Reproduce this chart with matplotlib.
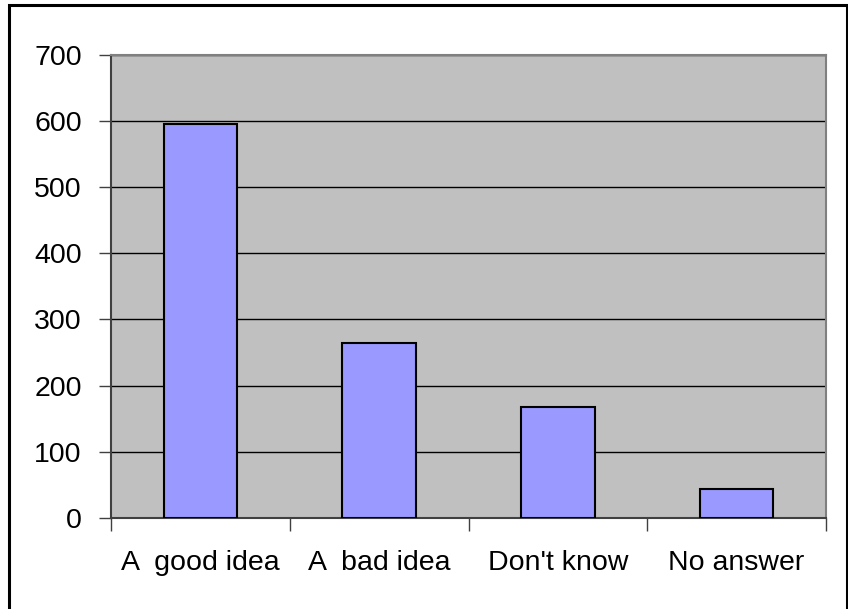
import matplotlib
matplotlib.use("Agg")
import matplotlib.pyplot as plt
from matplotlib.patches import Rectangle

categories = ["A  good idea", "A  bad idea", "Don't know", "No answer"]
values = [596, 264, 168, 43]
yticks = [0, 100, 200, 300, 400, 500, 600, 700]

plt.rcParams['font.family'] = ['Liberation Sans', 'DejaVu Sans']

fig = plt.figure(figsize=(8.48, 6.09), dpi=100)
fig.patch.set_facecolor('white')
ax = fig.add_axes([111/848, 1-517.7/609, (826-111)/848, (517.7-55)/609])
ax.set_facecolor('#C0C0C0')

x = list(range(len(categories)))
ax.bar(x, values, width=0.41, color='#9999FF', edgecolor='black', linewidth=1.5, zorder=3)

ax.set_xlim(-0.5, len(categories) - 0.5)
ax.set_ylim(0, 700)
ax.set_yticks(yticks)
ax.set_yticklabels([str(v) for v in yticks], fontsize=20.5)
ax.yaxis.grid(True, color='black', linewidth=1.0, zorder=1)
ax.set_axisbelow(True)

ax.set_xticks(x)
ax.set_xticklabels(categories, fontsize=20.5)
ax.set_xticks([i - 0.5 for i in range(len(categories) + 1)], minor=True)
ax.tick_params(axis='x', which='major', length=0, pad=23)
ax.tick_params(axis='x', which='minor', length=9, width=1.0, color='#404040', direction='out')
ax.tick_params(axis='y', which='major', length=9, width=1.0, color='#404040', direction='out', pad=12)

for s in ['top', 'right']:
    ax.spines[s].set_color('#808080')
    ax.spines[s].set_linewidth(1.5)
for s in ['left', 'bottom']:
    ax.spines[s].set_color('#404040')
    ax.spines[s].set_linewidth(1.5)

border = Rectangle((9/848, -0.01), (846.5-9)/848, 1 - 5/609 + 0.01, transform=fig.transFigure,
                   fill=False, edgecolor='black', linewidth=2.2, clip_on=False)
fig.patches.append(border)

fig.savefig('out.png', dpi=100)
